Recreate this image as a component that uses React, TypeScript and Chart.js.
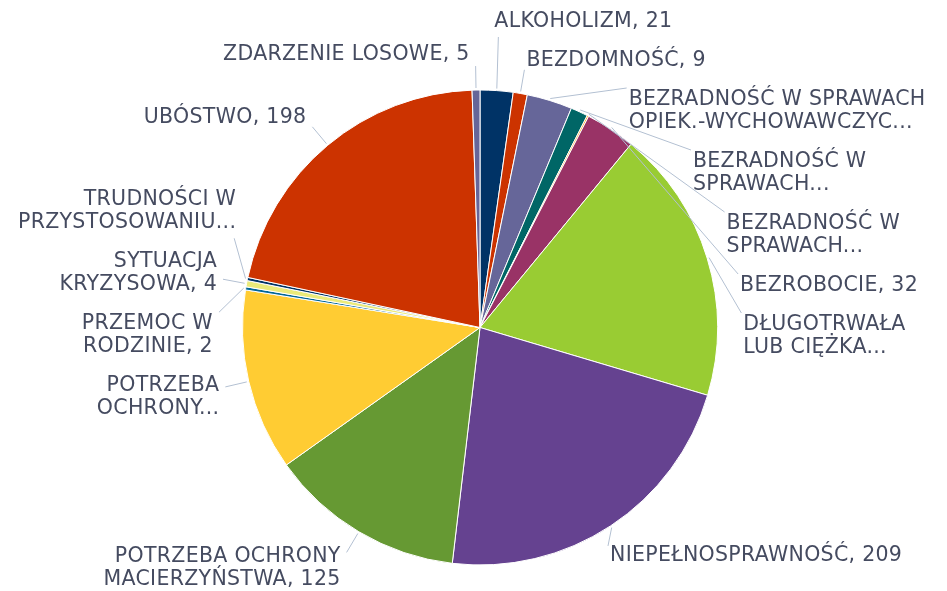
import React, { useEffect, useRef } from "react";
import { Chart, registerables } from "chart.js";

Chart.register(...registerables);

const categories = [
  "ALKOHOLIZM",
  "BEZDOMNOŚĆ",
  "BEZRADNOŚĆ W SPRAWACH OPIEK.-WYCHOWAWCZYCH",
  "BEZRADNOŚĆ W SPRAWACH (2)",
  "BEZRADNOŚĆ W SPRAWACH (3)",
  "BEZROBOCIE",
  "DŁUGOTRWAŁA LUB CIĘŻKA CHOROBA",
  "NIEPEŁNOSPRAWNOŚĆ",
  "POTRZEBA OCHRONY MACIERZYŃSTWA",
  "POTRZEBA OCHRONY",
  "PRZEMOC W RODZINIE",
  "SYTUACJA KRYZYSOWA",
  "TRUDNOŚCI W PRZYSTOSOWANIU",
  "UBÓSTWO",
  "ZDARZENIE LOSOWE",
];

const values = [21, 9, 29, 11, 1, 32, 175, 209, 125, 116, 2, 4, 2, 198, 5];

// Label text as displayed ("#" is replaced by the value)
const labelLines = [
  ["ALKOHOLIZM, #"],
  ["BEZDOMNOŚĆ, #"],
  ["BEZRADNOŚĆ W SPRAWACH", "OPIEK.-WYCHOWAWCZYC..."],
  ["BEZRADNOŚĆ W", "SPRAWACH..."],
  ["BEZRADNOŚĆ W", "SPRAWACH..."],
  ["BEZROBOCIE, #"],
  ["DŁUGOTRWAŁA", "LUB CIĘŻKA..."],
  ["NIEPEŁNOSPRAWNOŚĆ, #"],
  ["POTRZEBA OCHRONY", "MACIERZYŃSTWA, #"],
  ["POTRZEBA", "OCHRONY..."],
  ["PRZEMOC W", "RODZINIE, #"],
  ["SYTUACJA", "KRYZYSOWA, #"],
  ["TRUDNOŚCI W", "PRZYSTOSOWANIU..."],
  ["UBÓSTWO, #"],
  ["ZDARZENIE LOSOWE, #"],
];

const colors = [
  "#003366",
  "#cc3300",
  "#666699",
  "#006666",
  "#ff9900",
  "#993366",
  "#99cc33",
  "#654290",
  "#669933",
  "#ffcc33",
  "#006699",
  "#eaea7a",
  "#003366",
  "#cc3300",
  "#666699",
];

type Item = {
  i: number;
  theta: number;
  sin: number;
  cos: number;
  lines: string[];
  h: number;
  size: number;
  natY: number;
  target: number;
  right: boolean;
  center: number;
};

function distribute(list: Item[], minY: number, maxY: number) {
  const groups: { members: Item[]; top: number; size: number }[] = list.map((it) => ({
    members: [it],
    top: 0,
    size: 0,
  }));
  const place = (g: { members: Item[]; top: number; size: number }) => {
    let off = 0;
    let sum = 0;
    g.members.forEach((m) => {
      sum += m.target - off - m.size / 2;
      off += m.size;
    });
    g.size = off;
    let top = sum / g.members.length;
    top = Math.max(minY, Math.min(maxY - g.size, top));
    g.top = top;
  };
  groups.forEach(place);
  let merged = true;
  while (merged) {
    merged = false;
    for (let k = 1; k < groups.length; k++) {
      const a = groups[k - 1];
      const b = groups[k];
      if (a.top + a.size > b.top + 0.01) {
        a.members = a.members.concat(b.members);
        groups.splice(k, 1);
        place(a);
        merged = true;
        break;
      }
    }
  }
  groups.forEach((g) => {
    let off = g.top;
    g.members.forEach((m) => {
      m.center = off + m.size / 2;
      off += m.size;
    });
  });
}

const pieLabels = {
  id: "pieLabels",
  afterDraw(chart: any) {
    const meta = chart.getDatasetMeta(0);
    const arcs = meta.data;
    if (!arcs.length) return;
    const a0 = arcs[0];
    const cx = a0.x;
    const cy = a0.y;
    const r = a0.outerRadius;
    const R = r + 24;
    const lineH = 23;
    const gap = 16;
    const ctx = chart.ctx as CanvasRenderingContext2D;

    const items: Item[] = arcs.map((arc: any, i: number) => {
      const mid = (arc.startAngle + arc.endAngle) / 2;
      let theta = mid + Math.PI / 2;
      theta = ((theta % (2 * Math.PI)) + 2 * Math.PI) % (2 * Math.PI);
      const sin = Math.sin(theta);
      const cos = Math.cos(theta);
      const lines = labelLines[i].map((s) => s.replace("#", String(values[i])));
      const h = lines.length * lineH;
      const natY = cy - R * cos;
      return {
        i,
        theta,
        sin,
        cos,
        lines,
        h,
        size: h + gap,
        natY,
        target: natY - (h / 2) * cos,
        right: theta < Math.PI,
        center: 0,
      };
    });

    const rightSide = items.filter((it) => it.right).sort((a, b) => a.theta - b.theta);
    const leftSide = items.filter((it) => !it.right).sort((a, b) => b.theta - a.theta);
    distribute(rightSide, 2, chart.height + 8);
    distribute(leftSide, 2, chart.height + 8);

    const xAt = (y: number, it: Item) => {
      const dy = y - cy;
      const s = it.right ? 1 : -1;
      return Math.abs(dy) < R ? cx + s * Math.sqrt(R * R - dy * dy) : cx + R * it.sin;
    };

    ctx.save();
    ctx.font = "20.5px 'DejaVu Sans'";
    (ctx as any).letterSpacing = "0.3px";
    ctx.textBaseline = "middle";
    items.forEach((it) => {
      const top = it.center - it.h / 2;
      const bottom = top + it.h;
      const ya = Math.max(top, Math.min(bottom + 4, it.natY));
      const below = ya > bottom;
      let ax: number;
      let tx: number;
      if (it.right) {
        const xc = xAt(it.center, it);
        ax = Math.abs(it.center - cy) < R ? xc : xAt(ya, it);
        tx = below ? ax - 4 : ax + 2;
      } else {
        ax = xAt(ya, it);
        tx = below ? ax + 2 : ax - 6;
      }
      const px = cx + (r + 2) * it.sin;
      const py = cy - (r + 2) * it.cos;
      ctx.strokeStyle = "#b3c0d2";
      ctx.lineWidth = 1;
      ctx.beginPath();
      ctx.moveTo(px, py);
      ctx.lineTo(ax, ya);
      ctx.stroke();
      ctx.fillStyle = "#454b60";
      ctx.textAlign = it.right ? "left" : "right";
      it.lines.forEach((ln, k) => ctx.fillText(ln, tx, top + lineH / 2 + k * lineH));
    });
    ctx.restore();
  },
};

export default function App() {
  const ref = useRef<HTMLCanvasElement | null>(null);
  useEffect(() => {
    document.body.style.margin = "0";
    if (!ref.current) return;
    const chart = new Chart(ref.current, {
      type: "pie",
      data: {
        labels: categories,
        datasets: [
          {
            data: values,
            backgroundColor: colors,
            borderColor: "#ffffff",
            borderWidth: 1,
            hoverOffset: 0,
          },
        ],
      },
      options: {
        responsive: false,
        animation: false,
        layout: { padding: { left: 242, right: 229, top: 89, bottom: 25 } },
        plugins: {
          legend: { display: false },
          tooltip: { enabled: false },
        },
      },
      plugins: [pieLabels],
    } as any);
    return () => chart.destroy();
  }, []);
  return (
    <div style={{ width: 947, height: 591 }}>
      <canvas ref={ref} width={947} height={591} />
    </div>
  );
}
